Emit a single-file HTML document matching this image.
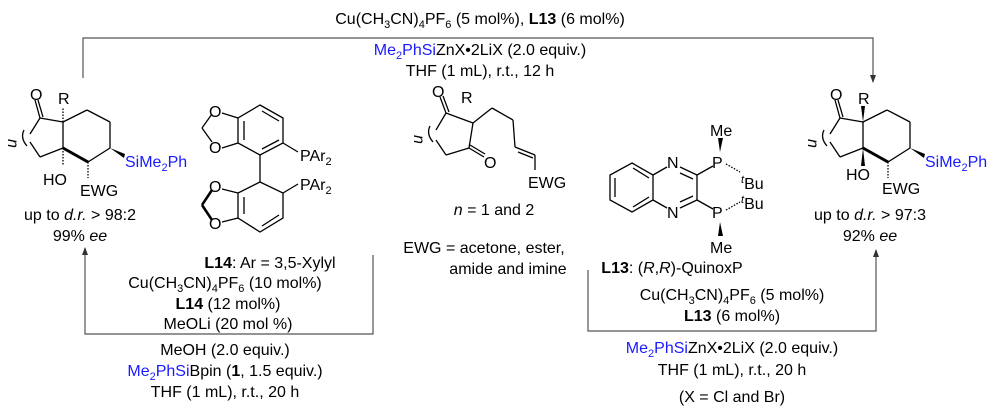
<!DOCTYPE html>
<html><head><meta charset="utf-8"><style>
body{margin:0;background:#fff;}
svg{display:block;font-family:"Liberation Sans",Arial,sans-serif;}
text{font-size:16px;fill:#000;}
.b{fill:#1a1aff;}
</style></head><body>
<svg width="1000" height="413" viewBox="0 0 1000 413" xmlns="http://www.w3.org/2000/svg">
<defs>
<marker id="ah" markerWidth="8" markerHeight="8" refX="7" refY="4" orient="auto" markerUnits="userSpaceOnUse"><path d="M0,1 L8,4 L0,7 Z" fill="#333"/></marker>
</defs>
<g stroke="#555" stroke-width="1.2" fill="none">
<polyline points="83,78 83,38 873,38 873,82" marker-end="url(#ah)"/>
<polyline points="373,255 373,334 85,334 85,248" marker-end="url(#ah)"/>
<polyline points="588,270 588,331 876,331 876,250" marker-end="url(#ah)"/>
</g>
<!-- top text -->
<text x="480" y="24" text-anchor="middle">Cu(CH<tspan font-size="11" dy="4">3</tspan><tspan dy="-4">CN)</tspan><tspan font-size="11" dy="4">4</tspan><tspan dy="-4">PF</tspan><tspan font-size="11" dy="4">6</tspan><tspan dy="-4"> (5 mol%), </tspan><tspan font-weight="bold">L13</tspan> (6 mol%)</text>
<text x="480" y="55" text-anchor="middle"><tspan class="b">Me</tspan><tspan class="b" font-size="11" dy="4">2</tspan><tspan class="b" dy="-4">PhSi</tspan>ZnX•2LiX (2.0 equiv.)</text>
<text x="480" y="76" text-anchor="middle">THF (1 mL), r.t., 12 h</text>

<!-- left product -->
<g stroke="#000" stroke-width="1.3" fill="none">
<line x1="40" y1="118" x2="35" y2="100"/><line x1="43" y1="117" x2="38" y2="100"/>
<line x1="40" y1="118" x2="63" y2="122"/>
<line x1="63" y1="122" x2="63" y2="148"/>
<line x1="63" y1="148" x2="40" y2="157"/>
<line x1="40" y1="157" x2="30" y2="142"/>
<line x1="40" y1="118" x2="30" y2="134"/>
<path d="M24,130 Q20,138 27,146"/>
<line x1="63" y1="122" x2="87" y2="110"/>
<line x1="87" y1="110" x2="110" y2="122"/>
<line x1="110" y1="122" x2="110" y2="148"/>
<line x1="110" y1="148" x2="88" y2="162"/>
<line x1="88" y1="162" x2="63" y2="148" stroke-width="3"/>
<line x1="63" y1="122" x2="63" y2="108" stroke-dasharray="1.5,1.5"/>
<line x1="63" y1="148" x2="63" y2="165" stroke-dasharray="1.5,1.5"/>
<line x1="88" y1="162" x2="88" y2="178" stroke-dasharray="1.5,1.5"/>
</g>
<polygon points="110,148 125,154 124,158" fill="#000"/>
<text x="30" y="100">O</text><text x="58" y="104">R</text>
<text x="9" y="146" font-size="12" font-style="italic" transform="rotate(90 12 142)">n</text>
<text x="43" y="185">HO</text><text x="80" y="196">EWG</text>
<text x="125" y="167" class="b">SiMe<tspan font-size="11" dy="4">2</tspan><tspan dy="-4">Ph</tspan></text>
<text x="80" y="220" text-anchor="middle">up to <tspan font-style="italic">d.r.</tspan> &gt; 98:2</text>
<text x="80" y="241" text-anchor="middle">99% <tspan font-style="italic">ee</tspan></text>

<!-- right product -->
<g transform="translate(800,0)">
<g stroke="#000" stroke-width="1.3" fill="none">
<line x1="40" y1="118" x2="35" y2="100"/><line x1="43" y1="117" x2="38" y2="100"/>
<line x1="40" y1="118" x2="63" y2="122"/>
<line x1="63" y1="122" x2="63" y2="148"/>
<line x1="63" y1="148" x2="40" y2="157"/>
<line x1="40" y1="157" x2="30" y2="142"/>
<line x1="40" y1="118" x2="30" y2="134"/>
<path d="M24,130 Q20,138 27,146"/>
<line x1="63" y1="122" x2="87" y2="110"/>
<line x1="87" y1="110" x2="110" y2="122"/>
<line x1="110" y1="122" x2="110" y2="148"/>
<line x1="110" y1="148" x2="88" y2="162"/>
<line x1="88" y1="162" x2="63" y2="148" stroke-width="3"/>
<line x1="88" y1="162" x2="88" y2="178" stroke-dasharray="1.5,1.5"/>
</g>
<polygon points="63,122 61,106 65,106" fill="#000"/>
<polygon points="63,148 61,166 65,166" fill="#000"/>
<polygon points="110,148 125,154 124,158" fill="#000"/>
<text x="30" y="100">O</text><text x="58" y="104">R</text>
<text x="9" y="146" font-size="12" font-style="italic" transform="rotate(90 12 142)">n</text>
<text x="46" y="180">HO</text><text x="82" y="194">EWG</text>
<text x="125" y="167" class="b">SiMe<tspan font-size="11" dy="4">2</tspan><tspan dy="-4">Ph</tspan></text>
<text x="70" y="220" text-anchor="middle">up to <tspan font-style="italic">d.r.</tspan> &gt; 97:3</text>
<text x="70" y="241" text-anchor="middle">92% <tspan font-style="italic">ee</tspan></text>
</g>

<!-- L14 -->
<g stroke="#000" stroke-width="1.3" fill="none">
<polygon points="260,105 283,118 283,143 260,155 238,143 238,118"/>
<line x1="262" y1="111" x2="279" y2="121"/><line x1="244" y1="121" x2="244" y2="140"/><line x1="262" y1="149" x2="279" y2="140"/>
<line x1="238" y1="118" x2="222" y2="113"/><line x1="238" y1="143" x2="222" y2="148"/>
<line x1="212" y1="114" x2="202" y2="128"/><line x1="202" y1="128" x2="212" y2="142"/>
<line x1="260" y1="155" x2="260" y2="182"/>
<polygon points="260,182 283,193 283,218 260,232 238,218 238,193"/>
<line x1="262" y1="226" x2="279" y2="215"/><line x1="244" y1="197" x2="244" y2="214"/>
<line x1="238" y1="193" x2="222" y2="189"/><line x1="238" y1="218" x2="222" y2="222"/>
<line x1="212" y1="190" x2="202" y2="205" stroke-width="2.5"/><line x1="202" y1="205" x2="212" y2="220" stroke-width="2.5"/>
<line x1="283" y1="143" x2="298" y2="152"/><line x1="283" y1="193" x2="298" y2="184"/>
</g>
<text x="209" y="117">O</text><text x="209" y="153">O</text>
<text x="209" y="192">O</text><text x="209" y="229">O</text>
<text x="300" y="161">PAr<tspan font-size="11" dy="4">2</tspan></text>
<text x="300" y="190">PAr<tspan font-size="11" dy="4">2</tspan></text>
<text x="270" y="268" text-anchor="middle"><tspan font-weight="bold">L14</tspan>: Ar = 3,5-Xylyl</text>

<!-- substrate -->
<g stroke="#000" stroke-width="1.3" fill="none">
<line x1="446" y1="113" x2="440" y2="97"/><line x1="449" y1="112" x2="443" y2="96"/>
<line x1="446" y1="113" x2="473" y2="123"/>
<line x1="473" y1="123" x2="469" y2="148"/>
<line x1="469" y1="148" x2="446" y2="155"/>
<line x1="446" y1="155" x2="436" y2="140"/>
<line x1="446" y1="113" x2="436" y2="130"/>
<path d="M430,126 Q426,134 433,142"/>
<line x1="469" y1="148" x2="484" y2="157"/><line x1="470" y1="145" x2="485" y2="154"/>
<line x1="473" y1="123" x2="492" y2="108"/>
<line x1="492" y1="108" x2="513" y2="120"/>
<line x1="513" y1="120" x2="515" y2="147"/>
<line x1="515" y1="147" x2="535" y2="155"/>
<line x1="518" y1="152" x2="533" y2="158"/>
<line x1="535" y1="155" x2="535" y2="170"/>
</g>
<text x="432" y="97">O</text><text x="461" y="103">R</text><text x="484" y="168">O</text>
<text x="415" y="142" font-size="12" font-style="italic" transform="rotate(90 418 138)">n</text>
<text x="528" y="188">EWG</text>
<text x="494" y="215" text-anchor="middle"><tspan font-style="italic">n</tspan> = 1 and 2</text>
<text x="484" y="253" text-anchor="middle">EWG = acetone, ester,</text>
<text x="508" y="274" text-anchor="middle">amide and imine</text>

<!-- L13 -->
<g stroke="#000" stroke-width="1.3" fill="none">
<polygon points="632,163 653,175 653,200 632,212 610,200 610,175"/>
<line x1="615" y1="178" x2="615" y2="197"/><line x1="633" y1="168" x2="649" y2="178"/><line x1="633" y1="207" x2="649" y2="197"/>
<line x1="653" y1="175" x2="667" y2="167"/><line x1="653" y1="200" x2="667" y2="208"/>
<line x1="680" y1="167" x2="697" y2="175"/><line x1="680" y1="173" x2="693" y2="179"/>
<line x1="697" y1="175" x2="697" y2="200"/>
<line x1="680" y1="208" x2="697" y2="200"/><line x1="680" y1="202" x2="693" y2="196"/>
<line x1="697" y1="175" x2="713" y2="166"/><line x1="697" y1="200" x2="713" y2="209"/>
<line x1="726" y1="164" x2="740" y2="172" stroke-dasharray="1.5,1.5"/>
<line x1="726" y1="210" x2="740" y2="202" stroke-dasharray="1.5,1.5"/>
</g>
<polygon points="720,152 718,138 723,138" fill="#000"/>
<polygon points="720,222 718,236 723,236" fill="#000"/>
<text x="667" y="168">N</text><text x="667" y="218">N</text>
<text x="712" y="168">P</text><text x="712" y="218">P</text>
<text x="710" y="136">Me</text><text x="710" y="253">Me</text>
<text x="741" y="189"><tspan font-size="11" font-style="italic" dy="-6">t</tspan><tspan dy="6">Bu</tspan></text>
<text x="741" y="209"><tspan font-size="11" font-style="italic" dy="-6">t</tspan><tspan dy="6">Bu</tspan></text>
<text x="672" y="273" text-anchor="middle"><tspan font-weight="bold">L13</tspan>: (<tspan font-style="italic">R</tspan>,<tspan font-style="italic">R</tspan>)-QuinoxP</text>

<!-- left bottom conditions -->
<text x="225" y="288" text-anchor="middle">Cu(CH<tspan font-size="11" dy="4">3</tspan><tspan dy="-4">CN)</tspan><tspan font-size="11" dy="4">4</tspan><tspan dy="-4">PF</tspan><tspan font-size="11" dy="4">6</tspan><tspan dy="-4"> (10 mol%)</tspan></text>
<text x="228" y="309" text-anchor="middle"><tspan font-weight="bold">L14</tspan> (12 mol%)</text>
<text x="228" y="329" text-anchor="middle">MeOLi (20 mol %)</text>
<text x="225" y="355" text-anchor="middle">MeOH (2.0 equiv.)</text>
<text x="225" y="376" text-anchor="middle"><tspan class="b">Me</tspan><tspan class="b" font-size="11" dy="4">2</tspan><tspan class="b" dy="-4">PhSi</tspan>Bpin (<tspan font-weight="bold">1</tspan>, 1.5 equiv.)</text>
<text x="225" y="397" text-anchor="middle">THF (1 mL), r.t., 20 h</text>

<!-- right bottom conditions -->
<text x="732" y="300" text-anchor="middle">Cu(CH<tspan font-size="11" dy="4">3</tspan><tspan dy="-4">CN)</tspan><tspan font-size="11" dy="4">4</tspan><tspan dy="-4">PF</tspan><tspan font-size="11" dy="4">6</tspan><tspan dy="-4"> (5 mol%)</tspan></text>
<text x="732" y="321" text-anchor="middle"><tspan font-weight="bold">L13</tspan> (6 mol%)</text>
<text x="732" y="353" text-anchor="middle"><tspan class="b">Me</tspan><tspan class="b" font-size="11" dy="4">2</tspan><tspan class="b" dy="-4">PhSi</tspan>ZnX•2LiX (2.0 equiv.)</text>
<text x="732" y="375" text-anchor="middle">THF (1 mL), r.t., 20 h</text>
<text x="732" y="402" text-anchor="middle">(X = Cl and Br)</text>
</svg>
</body></html>
